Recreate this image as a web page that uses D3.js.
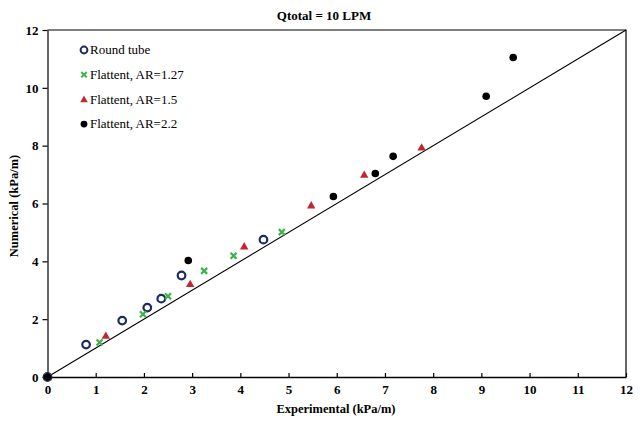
<!DOCTYPE html>
<html><head><meta charset="utf-8">
<script src="https://cdn.jsdelivr.net/npm/d3@7"></script>
<style>body{margin:0;background:#fff}svg{display:block}
svg text{font-family:'Liberation Serif','Times New Roman',Times,'DejaVu Serif',serif !important}</style>
</head><body><svg id="c" width="640" height="424"></svg>
<script>
const title = "Qtotal = 10 LPM";
const xLabel = "Experimental (kPa/m)";
const yLabel = "Numerical (kPa/m)";
const xTicks = [0,1,2,3,4,5,6,7,8,9,10,11,12];
const yTicks = [0,2,4,6,8,10,12];
const seriesNames = ["Round tube","Flattent, AR=1.27","Flattent, AR=1.5","Flattent, AR=2.2"];
const roundX = [0,0.80,1.55,2.07,2.36,2.78,4.48];
const roundY = [0,1.12,1.95,2.40,2.71,3.51,4.75];
const ar127X = [0,1.08,1.98,2.50,3.25,3.86,4.86];
const ar127Y = [0,1.19,2.17,2.79,3.67,4.19,5.01];
const ar15X = [0,1.21,2.96,4.08,5.47,6.57,7.76];
const ar15Y = [0,1.43,3.22,4.52,5.94,7.00,7.94];
const ar22X = [0,2.92,5.93,6.80,7.17,9.10,9.66];
const ar22Y = [0,4.03,6.24,7.04,7.63,9.71,11.05];
const lineX = [0,12];
const lineY = [0,12];

const svg = d3.select("#c");
const m = {l:47.5, r:14, t:30, b:47};
const W = 640, H = 424;
const x = d3.scaleLinear().domain([0,12]).range([m.l, W-m.r]);
const y = d3.scaleLinear().domain([0,12]).range([H-m.b, m.t]);

svg.append("path").attr("d",`M${x(0)},${y(12)}H${x(12)}V${y(0)}`).attr("fill","none").attr("stroke","#000").attr("stroke-width",1.2);

const xa = svg.append("g").attr("transform",`translate(0,${y(0)})`)
  .call(d3.axisBottom(x).tickValues(xTicks).tickSizeInner(-4).tickSizeOuter(0).tickPadding(8));
const ya = svg.append("g").attr("transform",`translate(${x(0)},0)`)
  .call(d3.axisLeft(y).tickValues(yTicks).tickSizeInner(5).tickSizeOuter(0).tickPadding(4));
[xa,ya].forEach(a=>{
  a.attr("font-family",null);
  a.selectAll("path,line").attr("stroke","#000").attr("stroke-width",1.2);
  a.selectAll("text").attr("font-size",13).attr("font-weight","bold").attr("fill","#000");
});
xa.select(".domain").attr("stroke-width",1.3);

svg.append("line").attr("x1",x(lineX[0])).attr("y1",y(lineY[0])).attr("x2",x(lineX[1])).attr("y2",y(lineY[1]))
  .attr("stroke","#000").attr("stroke-width",1.1);

const colors = ["#1c2b63","#3cb34a","#c1272d","#000000"];
const data = [[roundX,roundY],[ar127X,ar127Y],[ar15X,ar15Y],[ar22X,ar22Y]];

function marker(g, i, cx, cy, s) {
  if (i===0) g.append("circle").attr("cx",cx).attr("cy",cy).attr("r",3.8*s).attr("fill","none").attr("stroke",colors[0]).attr("stroke-width",2.2*s);
  else if (i===1) {
    const d=3*s;
    g.append("path").attr("d",`M${cx-d},${cy-d}L${cx+d},${cy+d}M${cx-d},${cy+d}L${cx+d},${cy-d}`).attr("stroke",colors[1]).attr("stroke-width",2.2*s);
  } else if (i===2) {
    const d=4.2*s;
    g.append("path").attr("d",`M${cx},${cy-d}L${cx+d},${cy+d*0.75}L${cx-d},${cy+d*0.75}Z`).attr("fill",colors[2]);
  } else g.append("circle").attr("cx",cx).attr("cy",cy).attr("r",3.8*s).attr("fill",colors[3]);
}

const pts = svg.append("g");
data.forEach((d,i)=>{
  d[0].forEach((v,j)=>marker(pts,i,x(v),y(d[1][j]),1));
});

const lg = svg.append("g");
seriesNames.forEach((n,i)=>{
  const ly = 50 + i*24.7;
  marker(lg,i,84,ly,0.9);
  lg.append("text").attr("x",90).attr("y",ly+4.3).attr("font-size",13).attr("fill","#000").text(n);
});

svg.append("text").attr("x",324).attr("y",20).attr("text-anchor","middle").attr("font-size",13).attr("font-weight","bold").text(title);
svg.append("text").attr("x",336).attr("y",413).attr("text-anchor","middle").attr("font-size",12.5).attr("font-weight","bold").text(xLabel);
svg.append("text").attr("transform","translate(18,206) rotate(-90)").attr("text-anchor","middle").attr("font-size",12.5).attr("font-weight","bold").text(yLabel);
</script></body></html>
